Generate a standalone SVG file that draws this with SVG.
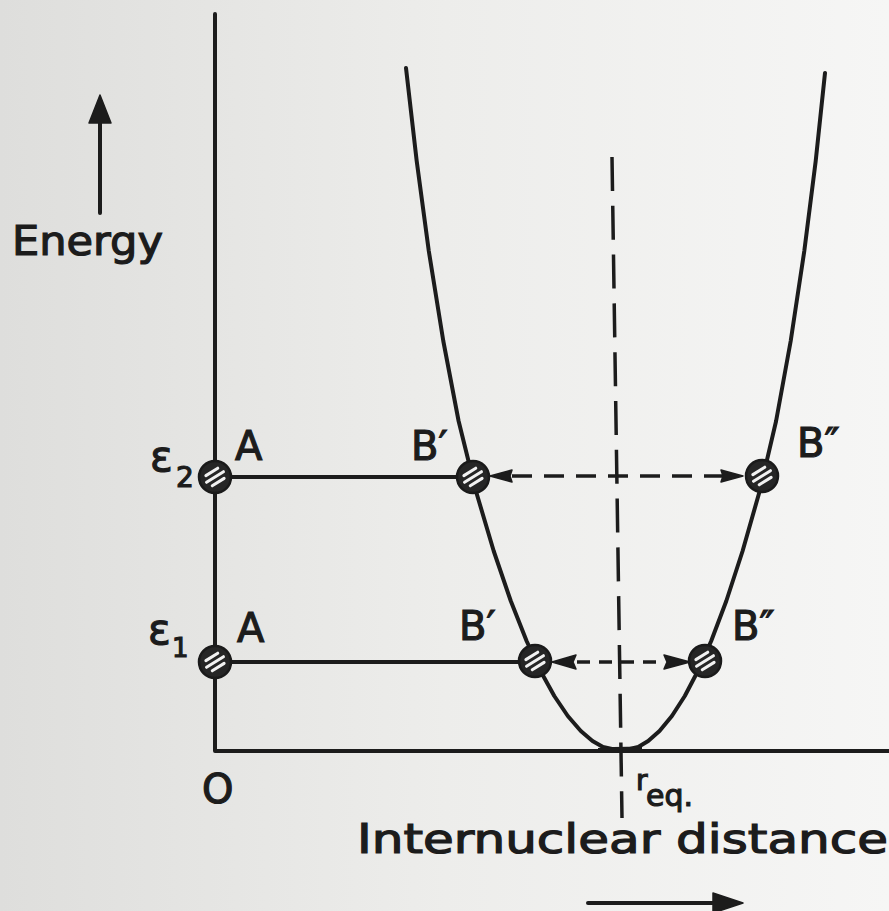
<svg xmlns="http://www.w3.org/2000/svg" width="889" height="911" viewBox="0 0 889 911">
<defs>
<linearGradient id="bg" x1="0" y1="0" x2="1" y2="0">
<stop offset="0" stop-color="#dededc"/>
<stop offset="0.5" stop-color="#ededeb"/>
<stop offset="1" stop-color="#f6f6f5"/>
</linearGradient>
<g id="ball">
<circle r="16" fill="#262626" stroke="#1a1a1a" stroke-width="2.5"/>
<g stroke="#f2f2f2" stroke-width="3" stroke-linecap="round" transform="rotate(-32)">
<line x1="-7" y1="-6" x2="7" y2="-6"/>
<line x1="-10" y1="0" x2="10" y2="0"/>
<line x1="-7" y1="6" x2="7" y2="6"/>
</g>
</g>
</defs>
<style>
.ax{stroke:#1c1c1c;stroke-width:4;fill:none;stroke-linecap:round;stroke-linejoin:round}
.cv{stroke:#1c1c1c;stroke-width:4;fill:none;stroke-linecap:round;stroke-linejoin:round}
.dash{stroke:#1c1c1c;stroke-width:3.5;fill:none}
.head{fill:#1c1c1c;stroke:#1c1c1c;stroke-width:1.5;stroke-linejoin:round}
.t{font-family:"DejaVu Sans","Liberation Sans",sans-serif;fill:#1c1c1c;stroke:#1c1c1c;stroke-width:1.2}
</style>
<rect width="889" height="911" fill="url(#bg)"/>

<g id="axes">
<polyline class="ax" points="215,14 215,751 889,751"/>
<line class="ax" x1="100" y1="213" x2="100" y2="120"/>
<polygon class="head" points="100,95 89,123 111,123"/>
<line class="ax" x1="588" y1="903" x2="716" y2="903"/>
<polygon class="head" points="743,903 713,893 713,913"/>
</g>

<g id="curve">
<polyline class="cv" points="406,68 416.7,161 428.8,251 443.3,341 458.6,421 475.9,491 493.7,551 510.8,601 526.6,641 540.5,671 554.3,696 567.8,716 580.8,731 592.5,741 603,747 621,751 638.2,747 648.2,741 659.5,731 671.9,716 684.8,696 697.9,671 711.2,641 726.3,601 742.6,551 759.7,491 776.1,421 790.7,341 804.3,251 815.7,161 825,73"/>
<path d="M598,748 Q621,746 642,747 L642,752 L598,752 Z" fill="#1c1c1c"/>
</g>

<g id="connectors">
<line class="dash" x1="612" y1="157" x2="622" y2="818" stroke-dasharray="34 14.8"/>
<line class="ax" x1="231" y1="477" x2="457" y2="477"/>
<line class="ax" x1="231" y1="662" x2="520" y2="662"/>
<line class="dash" x1="512" y1="476" x2="723" y2="476" stroke-dasharray="20 12"/>
<polygon class="head" points="490,476 512,470 510,476 512,482"/>
<polygon class="head" points="743,476 721,470 723,476 721,482"/>
<line class="dash" x1="577" y1="662" x2="664" y2="662" stroke-dasharray="13 9"/>
<polygon class="head" points="552,662 576,655 573,662 576,669"/>
<polygon class="head" points="690,662 664,655 667,662 664,669"/>
</g>

<g id="node-A2"><use href="#ball" x="215" y="477"/></g>
<g id="node-B1-2"><use href="#ball" x="473" y="477"/></g>
<g id="node-B2-2"><use href="#ball" x="762" y="476"/></g>
<g id="node-A1"><use href="#ball" x="215" y="662"/></g>
<g id="node-B1-1"><use href="#ball" x="535" y="661"/></g>
<g id="node-B2-1"><use href="#ball" x="705" y="661"/></g>

<g id="labels">
<text class="t" x="12" y="255" font-size="40" textLength="151" lengthAdjust="spacingAndGlyphs">Energy</text>
<text class="t" x="150" y="471" font-size="42">ε</text>
<text class="t" x="176" y="487" font-size="28">2</text>
<text class="t" x="148" y="644" font-size="42">ε</text>
<text class="t" x="172" y="657" font-size="26">1</text>
<text class="t" x="235" y="460" font-size="40">A</text>
<text class="t" x="237" y="642" font-size="40">A</text>
<text class="t" x="411" y="460" font-size="40">B′</text>
<text class="t" x="797" y="457" font-size="40">B″</text>
<text class="t" x="459" y="640" font-size="40">B′</text>
<text class="t" x="732" y="640" font-size="40">B″</text>
<text class="t" x="202" y="803" font-size="40">O</text>
<text class="t" x="636" y="790" font-size="28">r</text>
<text class="t" x="646" y="806" font-size="30">eq.</text>
<text class="t" x="357" y="853" font-size="40" textLength="531" lengthAdjust="spacingAndGlyphs">Internuclear distance</text>
</g>
</svg>
